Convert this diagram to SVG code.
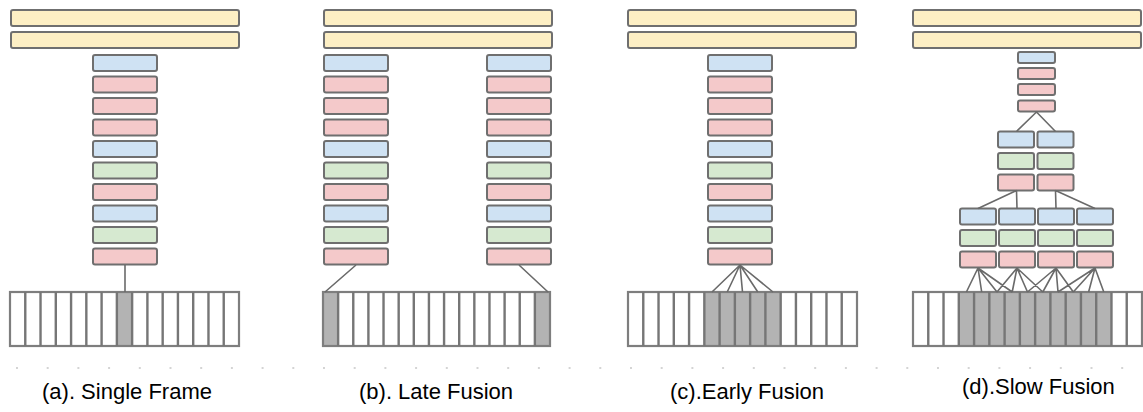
<svg xmlns="http://www.w3.org/2000/svg" width="1143" height="412" viewBox="0 0 1143 412">
<defs>
<style>
.bx{stroke:#6f6f6f;stroke-width:2}
.y{fill:#fdefc4}.b{fill:#cfe2f3}.p{fill:#f4c9ca}.g{fill:#d6e9d0}
.st{fill:none;stroke:#7e7e7e;stroke-width:2.2}
.gc{fill:#b3b3b3}
.dv{fill:none;stroke:#767676;stroke-width:2.4}
.ln{fill:none;stroke:#6a6a6a;stroke-width:1.6}
.lb{font-family:"Liberation Sans",Arial,sans-serif;font-size:22px;fill:#000}
</style>
<pattern id="dots" patternUnits="userSpaceOnUse" x="16" y="367" width="30.7" height="2">
<rect x="0" y="0" width="2" height="2" fill="#d4d4d4"/>
</pattern>
<g id="stack10">
<rect class="bx b" x="0" y="55" width="64" height="16" rx="2"/>
<rect class="bx p" x="0" y="76.5" width="64" height="16" rx="2"/>
<rect class="bx p" x="0" y="98" width="64" height="16" rx="2"/>
<rect class="bx p" x="0" y="119.5" width="64" height="16" rx="2"/>
<rect class="bx b" x="0" y="141" width="64" height="16" rx="2"/>
<rect class="bx g" x="0" y="162.5" width="64" height="16" rx="2"/>
<rect class="bx p" x="0" y="184" width="64" height="16" rx="2"/>
<rect class="bx b" x="0" y="205.5" width="64" height="16" rx="2"/>
<rect class="bx g" x="0" y="227" width="64" height="16" rx="2"/>
<rect class="bx p" x="0" y="248.5" width="64" height="16" rx="2"/>
</g>
<g id="bars">
<rect class="bx y" x="0" y="10" width="228" height="16" rx="2"/>
<rect class="bx y" x="0" y="32" width="228" height="16" rx="2"/>
</g>
<g id="col3">
<rect class="bx b" x="0" y="0" width="36" height="16" rx="2"/>
<rect class="bx g" x="0" y="21.5" width="36" height="16" rx="2"/>
<rect class="bx p" x="0" y="43" width="36" height="16" rx="2"/>
</g>
</defs>
<rect width="1143" height="412" fill="#fff"/>
<rect x="16" y="367" width="1127" height="2" fill="url(#dots)"/>

<!-- (a) Single Frame -->
<g id="panel-a">
<use href="#bars" x="11"/>
<use href="#stack10" x="93"/>
<g id="strip-a">
<rect class="gc" x="116.87" y="292" width="15.27" height="54"/>
<rect class="st" x="10" y="292" width="229" height="54"/>
<path class="dv" d="M25.27 292V346M40.53 292V346M55.8 292V346M71.07 292V346M86.33 292V346M101.6 292V346M116.87 292V346M132.13 292V346M147.4 292V346M162.67 292V346M177.93 292V346M193.2 292V346M208.47 292V346M223.73 292V346"/>
</g>
<text class="lb" x="42" y="399">(a). Single Frame</text>
</g>

<!-- (b) Late Fusion -->
<g id="panel-b">
<use href="#bars" x="324"/>
<use href="#stack10" x="324"/>
<use href="#stack10" x="487"/>
<g id="strip-b">
<rect class="gc" x="323" y="292" width="15.13" height="54"/>
<rect class="gc" x="534.87" y="292" width="15.13" height="54"/>
<rect class="st" x="323" y="292" width="227" height="54"/>
<path class="dv" d="M338.13 292V346M353.27 292V346M368.4 292V346M383.53 292V346M398.67 292V346M413.8 292V346M428.93 292V346M444.07 292V346M459.2 292V346M474.33 292V346M489.47 292V346M504.6 292V346M519.73 292V346M534.87 292V346"/>
</g>
<text class="lb" x="359" y="399">(b). Late Fusion</text>
</g>

<!-- (c) Early Fusion -->
<g id="panel-c">
<use href="#bars" x="628"/>
<use href="#stack10" x="708"/>
<g id="strip-c">
<rect class="gc" x="704.33" y="292" width="76.34" height="54"/>
<rect class="st" x="628" y="292" width="229" height="54"/>
<path class="dv" d="M643.27 292V346M658.53 292V346M673.8 292V346M689.07 292V346M704.33 292V346M719.6 292V346M734.87 292V346M750.13 292V346M765.4 292V346M780.67 292V346M795.93 292V346M811.2 292V346M826.47 292V346M841.73 292V346"/>
</g>
<text class="lb" x="670" y="399">(c).Early Fusion</text>
</g>

<!-- (d) Slow Fusion -->
<g id="panel-d">
<use href="#bars" x="913"/>
<g id="d-top">
<rect class="bx b" x="1018" y="52" width="37" height="11" rx="2"/>
<rect class="bx p" x="1018" y="68" width="37" height="11" rx="2"/>
<rect class="bx p" x="1018" y="84" width="37" height="11" rx="2"/>
<rect class="bx p" x="1018" y="100.5" width="37" height="11" rx="2"/>
</g>
<g id="d-mid">
<use href="#col3" x="998" y="131.5"/>
<use href="#col3" x="1037.5" y="131.5"/>
</g>
<g id="d-bottom">
<use href="#col3" x="960" y="208.5"/>
<use href="#col3" x="999" y="208.5"/>
<use href="#col3" x="1038" y="208.5"/>
<use href="#col3" x="1077" y="208.5"/>
</g>
<g id="strip-d">
<rect class="gc" x="958.8" y="292" width="152.67" height="54"/>
<rect class="st" x="913" y="292" width="229" height="54"/>
<path class="dv" d="M928.27 292V346M943.53 292V346M958.8 292V346M974.07 292V346M989.33 292V346M1004.6 292V346M1019.87 292V346M1035.13 292V346M1050.4 292V346M1065.67 292V346M1080.93 292V346M1096.2 292V346M1111.47 292V346M1126.73 292V346"/>
</g>
<text class="lb" x="962" y="394">(d).Slow Fusion</text>
</g>

<g id="connectors">
<path class="ln" d="M125 265V292"/>
<path class="ln" d="M356 265L325 292M519 265L548 292"/>
<path class="ln" d="M740 265L712 292M740 265L727.2 292M740 265L742.5 292M740 265L757.8 292M740 265L773 292"/>
<path class="ln" d="M1036.5 112L1016.5 131.5M1036.5 112L1055.5 131.5"/>
<path class="ln" d="M1016.5 190.5L978 208.5M1016.5 190.5L1017 208.5M1055.5 190.5L1056 208.5M1055.5 190.5L1095 208.5"/>
<path class="ln" d="M978 268L966.4 292M978 268L981.7 292M978 268L997 292M978 268L1012.2 292M1017 268L997 292M1017 268L1012.2 292M1017 268L1027.5 292M1017 268L1042.8 292M1056 268L1027.5 292M1056 268L1042.8 292M1056 268L1058 292M1056 268L1073.3 292M1095 268L1058 292M1095 268L1073.3 292M1095 268L1088.6 292M1095 268L1103.8 292"/>
</g>
</svg>
